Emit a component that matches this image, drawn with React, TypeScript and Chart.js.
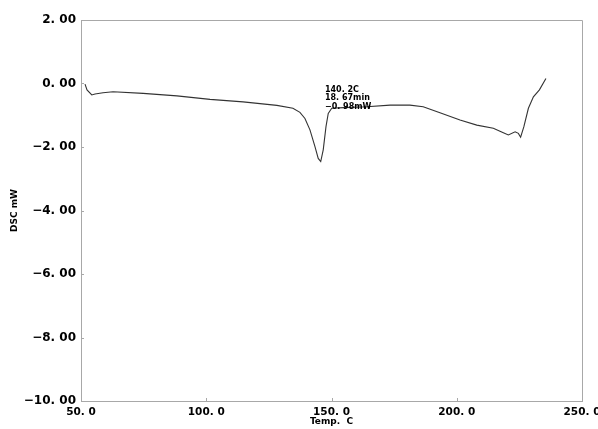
import { useEffect, useRef } from "react";
import { Chart, registerables } from "chart.js";

Chart.register(...registerables);

// Temperature (°C) and DSC signal (mW)
const tempC = [
  51.6, 52.4, 54.3, 55.6, 58.8, 62.8, 74.8, 88.3, 101.5, 114.7, 128.2, 134.6,
  137.4, 139.4, 141.4, 143.4, 144.7, 145.7, 146.7, 147.8, 148.7, 150.1, 154.7,
  164.1, 173.4, 181.3, 186.6, 193.3, 201.3, 208.0, 214.6, 218.6, 220.6, 223.3,
  224.6, 225.5, 226.8, 228.6, 230.6, 233.0, 235.6,
];
const dscMw = [
  -0.02, -0.2, -0.36, -0.33, -0.29, -0.26, -0.31, -0.39, -0.5, -0.58, -0.69,
  -0.78, -0.91, -1.1, -1.46, -1.99, -2.36, -2.46, -2.09, -1.36, -0.94, -0.78,
  -0.76, -0.73, -0.68, -0.68, -0.73, -0.92, -1.15, -1.31, -1.41, -1.55, -1.62,
  -1.52, -1.57, -1.69, -1.36, -0.78, -0.42, -0.2, 0.16,
];

const xTickValues = [50, 100, 150, 200, 250];
const xTickLabels = ["50. 0", "100. 0", "150. 0", "200. 0", "250. 0"];
const yTickValues = [2, 0, -2, -4, -6, -8, -10];
const yTickLabels = ["2. 00", "0. 00", "−2. 00", "−4. 00", "−6. 00", "−8. 00", "−10. 00"];

const xTitle = "Temp.  C";
const yTitle = "DSC mW";
const annotationLines = ["140. 2C", "18. 67min", "−0. 98mW"];
const annotationTemp = 147.4;
const annotationValue = -0.2;

export default function App() {
  const ref = useRef<HTMLCanvasElement | null>(null);

  useEffect(() => {
    document.body.style.margin = "0";
    const canvas = ref.current;
    if (!canvas) return;

    const framePlugin = {
      id: "frameAndTicks",
      afterDatasetsDraw(chart: any) {
        const { ctx, chartArea: a, scales } = chart;
        ctx.save();
        ctx.strokeStyle = "#a8a8a8";
        ctx.lineWidth = 1;
        ctx.beginPath();
        ctx.moveTo(a.left, a.top + 0.5);
        ctx.lineTo(a.right + 0.5, a.top + 0.5);
        ctx.lineTo(a.right + 0.5, a.bottom);
        for (const v of xTickValues) {
          const px = Math.round(scales.x.getPixelForValue(v)) + 0.5;
          ctx.moveTo(px, a.bottom);
          ctx.lineTo(px, a.bottom - 3);
        }
        for (const v of yTickValues) {
          const py = Math.round(scales.y.getPixelForValue(v)) + 0.5;
          ctx.moveTo(a.left, py);
          ctx.lineTo(a.left + 3, py);
        }
        ctx.stroke();

        ctx.fillStyle = "#000";
        ctx.font = "bold 8px 'DejaVu Sans'";
        ctx.textBaseline = "middle";
        ctx.textAlign = "left";
        const ax = scales.x.getPixelForValue(annotationTemp);
        const ay = scales.y.getPixelForValue(annotationValue);
        annotationLines.forEach((t, i) => ctx.fillText(t, ax, ay + i * 8.5));
        ctx.restore();
      },
    };

    const chart = new Chart(canvas, {
      type: "line",
      data: {
        datasets: [
          {
            data: tempC.map((t, i) => ({ x: t, y: dscMw[i] })),
            borderColor: "#333333",
            borderWidth: 1.1,
            pointRadius: 0,
            tension: 0,
            fill: false,
          },
        ],
      },
      options: {
        animation: false,
        responsive: false,
        devicePixelRatio: 1,
        layout: { padding: { left: 0, top: 20, right: 16, bottom: 0 } },
        plugins: { legend: { display: false }, tooltip: { enabled: false } },
        scales: {
          x: {
            type: "linear",
            min: 50,
            max: 250,
            grid: { display: false, drawTicks: false },
            border: { display: true, color: "#a8a8a8", width: 1 },
            afterBuildTicks: (s: any) => {
              s.ticks = xTickValues.map((v) => ({ value: v }));
            },
            afterFit: (s: any) => {
              s.height = 28;
              s.paddingLeft = 0;
              s.paddingRight = 0;
            },
            ticks: {
              autoSkip: false,
              maxRotation: 0,
              padding: 5,
              color: "#000",
              font: { family: "DejaVu Sans", weight: "bold", size: 10.5 },
              callback: (_v: any, i: number) => xTickLabels[i],
            },
            title: {
              display: true,
              text: xTitle,
              color: "#000",
              font: { family: "DejaVu Sans", weight: "bold", size: 9 },
              padding: { top: 0, bottom: 2 },
            },
          },
          y: {
            type: "linear",
            min: -10,
            max: 2,
            grid: { display: false, drawTicks: false },
            border: { display: true, color: "#a8a8a8", width: 1 },
            afterBuildTicks: (s: any) => {
              s.ticks = yTickValues.map((v) => ({ value: v }));
            },
            afterFit: (s: any) => {
              s.width = 81;
              s.paddingTop = 0;
              s.paddingBottom = 0;
            },
            ticks: {
              autoSkip: false,
              padding: 5,
              color: "#000",
              font: { family: "DejaVu Sans", weight: "bold", size: 12 },
              callback: (_v: any, i: number) => yTickLabels[i],
            },
            title: {
              display: true,
              text: yTitle,
              color: "#000",
              font: { family: "DejaVu Sans", weight: "bold", size: 9 },
              padding: { top: 9, bottom: 0 },
            },
          },
        },
      },
      plugins: [framePlugin],
    });

    return () => chart.destroy();
  }, []);

  return (
    <canvas
      ref={ref}
      width={598}
      height={429}
      style={{ display: "block", width: 598, height: 429 }}
    />
  );
}
